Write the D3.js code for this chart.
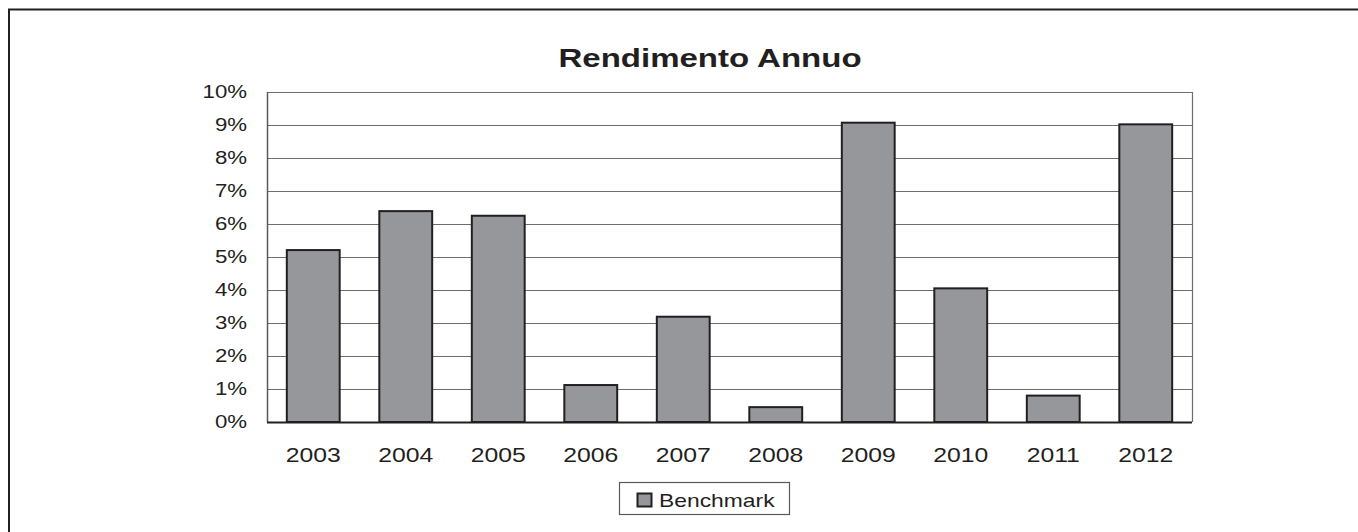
<!DOCTYPE html>
<html>
<head>
<meta charset="utf-8">
<script src="https://cdn.jsdelivr.net/npm/d3@7"></script>
<style>
  body { margin: 0; background: #fff; }
  svg text { font-family: "Liberation Sans", Arial, sans-serif; fill: #231f20; }
</style>
</head>
<body>
<svg width="1358" height="532"></svg>
<script>
// chart data
const years = ['2003','2004','2005','2006','2007','2008','2009','2010','2011','2012'];
const benchmark = [5.21, 6.39, 6.25, 1.12, 3.19, 0.45, 9.07, 4.05, 0.80, 9.02];
const yTicks = [0,1,2,3,4,5,6,7,8,9,10];
const title = 'Rendimento Annuo';
const seriesName = 'Benchmark';

const svg = d3.select('svg'),
      stretch = 1.27,   // text in the picture is wider than normal
      plot = { left: 267, right: 1192, top: 92, bottom: 422 };

const x = d3.scaleBand()
  .domain(years)
  .range([plot.left, plot.right])
  .paddingInner(0.75 / 1.75)
  .paddingOuter(0.75 / 3.5);

const y = d3.scaleLinear()
  .domain([0, 10])
  .range([plot.bottom, plot.top]);

// outer frame, only top & left show
svg.append('path')
  .attr('d', 'M9,540 L9,9.5 L1400,9.5')
  .attr('fill', 'none')
  .attr('stroke', '#231f20')
  .attr('stroke-width', 2);

let label = (sel, px, py, txt, size, anchor, weight) => {
  return sel.append('text')
    .attr('transform', `translate(${px},${py}) scale(${stretch},1)`)
    .attr('text-anchor', anchor)
    .attr('font-size', size)
    .attr('font-weight', weight || 'normal')
    .text(txt);
};

label(svg, 710, 67, title, 26, 'middle', 'bold');

// grid lines
svg.append('g')
  .selectAll('line')
  .data(yTicks)
  .enter()
  .append('line')
  .attr('x1', plot.left)
  .attr('x2', plot.right)
  .attr('y1', d => y(d) + 0.5)
  .attr('y2', d => y(d) + 0.5)
  .attr('stroke', '#6d6e71')
  .attr('stroke-width', 1.2);

// plot border (right side)
svg.append('line')
  .attr('x1', plot.right + 0.5).attr('x2', plot.right + 0.5)
  .attr('y1', plot.top).attr('y2', plot.bottom)
  .attr('stroke', '#6d6e71').attr('stroke-width', 1.2);

// y axis line
svg.append('line')
  .attr('x1', plot.left + 0.5).attr('x2', plot.left + 0.5)
  .attr('y1', plot.top).attr('y2', plot.bottom)
  .attr('stroke', '#58595b').attr('stroke-width', 1.5);

// bars
svg.append('g')
  .selectAll('rect')
  .data(benchmark)
  .enter()
  .append('rect')
  .attr('x', (d, i) => x(years[i]))
  .attr('y', d => y(d))
  .attr('width', x.bandwidth())
  .attr('height', d => y(0) - y(d))
  .attr('fill', '#96979b')
  .attr('stroke', '#231f20')
  .attr('stroke-width', 2);

// x axis line
svg.append('line')
  .attr('x1', plot.left).attr('x2', plot.right)
  .attr('y1', plot.bottom + 0.5).attr('y2', plot.bottom + 0.5)
  .attr('stroke', '#231f20').attr('stroke-width', 2);

// tick labels
const yl = svg.append('g');
yTicks.forEach(t => {
  label(yl, 247, y(t) + 6, t + '%', 17.5, 'end');
});

const xl = svg.append('g');
years.forEach(yr => {
  label(xl, x(yr) + x.bandwidth() / 2, 462, yr, 19.5, 'middle');
});

// legend
const lg = svg.append('g');
lg.append('rect')
  .attr('x', 619.5).attr('y', 482.5)
  .attr('width', 170).attr('height', 32)
  .attr('fill', '#fff')
  .attr('stroke', '#58595b')
  .attr('stroke-width', 1.2);
lg.append('rect')
  .attr('x', 637.5).attr('y', 493.5)
  .attr('width', 14).attr('height', 13)
  .attr('fill', '#96979b')
  .attr('stroke', '#231f20')
  .attr('stroke-width', 2);
label(lg, 659, 507, seriesName, 18, 'start');
</script>
</body>
</html>
